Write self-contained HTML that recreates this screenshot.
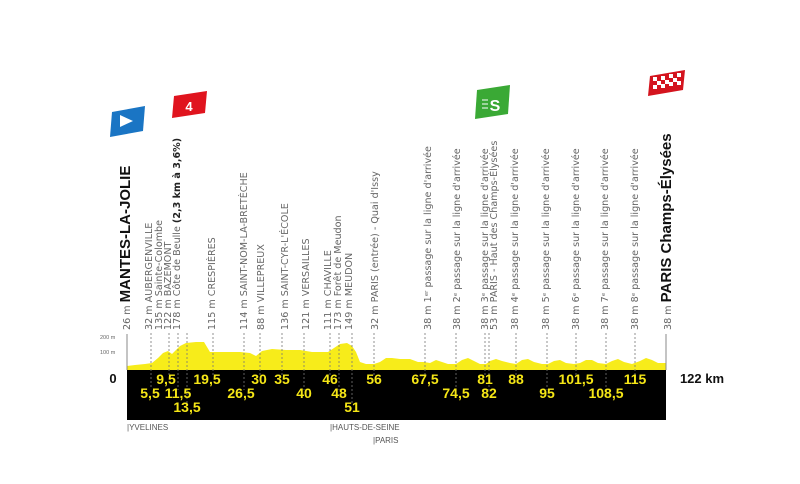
<!DOCTYPE html>
<html><head><meta charset="utf-8"><style>
html,body{margin:0;padding:0;background:#fff;}
svg{display:block;font-family:"Liberation Sans",sans-serif;}
.l{font-size:9.6px;fill:#666;font-family:"DejaVu Sans",sans-serif;}
.b{font-size:15px;font-weight:bold;fill:#111;font-family:"Liberation Sans",sans-serif;}
.n{font-size:14px;font-weight:bold;fill:#f5e616;text-anchor:middle;}
.p{font-size:8px;fill:#555;}
</style></head><body>
<svg width="800" height="484" viewBox="0 0 800 484" xmlns="http://www.w3.org/2000/svg">
<!-- flags -->
<polygon points="112,112 145,106 143,131 110,137" fill="#1a75c4"/>
<polygon points="120,115 133,121 120,127" fill="#fff"/>
<polygon points="174,96 207,91 205,113 172,118" fill="#e0141e"/>
<text x="189" y="111" font-size="13" font-weight="bold" fill="#fff" text-anchor="middle">4</text>
<polygon points="477,90 510,85 508,114 475,119" fill="#3aa935"/>
<text x="495" y="111" font-size="16" font-weight="bold" fill="#fff" text-anchor="middle">S</text>
<g stroke="#fff" stroke-width="1"><line x1="482" y1="100" x2="488" y2="100"/><line x1="482" y1="104" x2="488" y2="104"/><line x1="482" y1="108" x2="488" y2="108"/></g>
<polygon points="650,76 685,70 683,90 648,96" fill="#d4141e"/>
<g fill="#fff">
<rect x="653" y="77" width="4" height="4"/><rect x="661" y="76" width="4" height="4"/><rect x="669" y="74" width="4" height="4"/><rect x="677" y="73" width="4" height="4"/>
<rect x="657" y="81" width="4" height="4"/><rect x="665" y="80" width="4" height="4"/><rect x="673" y="78" width="4" height="4"/>
<rect x="653" y="85" width="4" height="4"/><rect x="661" y="84" width="4" height="4"/><rect x="669" y="82" width="4" height="4"/><rect x="677" y="81" width="4" height="4"/>
</g>
<!-- vertical labels -->
<text class="l" transform="translate(130,330) rotate(-90)">26 m <tspan class="b" font-size="16">MANTES-LA-JOLIE</tspan></text>
<text class="l" transform="translate(152,330) rotate(-90)">32 m AUBERGENVILLE</text>
<text class="l" transform="translate(162,330) rotate(-90)">135 m Sainte-Colombe</text>
<text class="l" transform="translate(171,330) rotate(-90)">122 m BAZEMONT</text>
<text class="l" transform="translate(180,330) rotate(-90)">178 m Côte de Beulle <tspan font-weight="bold" fill="#222">(2,3 km à 3,6%)</tspan></text>
<text class="l" transform="translate(215,330) rotate(-90)">115 m CRESPIÈRES</text>
<text class="l" transform="translate(247,330) rotate(-90)">114 m SAINT-NOM-LA-BRETÈCHE</text>
<text class="l" transform="translate(264,330) rotate(-90)">88 m VILLEPREUX</text>
<text class="l" transform="translate(288,330) rotate(-90)">136 m SAINT-CYR-L'ÉCOLE</text>
<text class="l" transform="translate(309,330) rotate(-90)">121 m VERSAILLES</text>
<text class="l" transform="translate(331,330) rotate(-90)">111 m CHAVILLE</text>
<text class="l" transform="translate(341,330) rotate(-90)">173 m Forêt de Meudon</text>
<text class="l" transform="translate(352,330) rotate(-90)">149 m MEUDON</text>
<text class="l" transform="translate(378,330) rotate(-90)">32 m PARIS (entrée) - Quai d'Issy</text>
<text class="l" transform="translate(431,330) rotate(-90)">38 m 1<tspan font-size="5.5" dy="-3">er</tspan><tspan dy="3"> passage sur la ligne d'arrivée</tspan></text>
<text class="l" transform="translate(460,330) rotate(-90)">38 m 2<tspan font-size="5.5" dy="-3">e</tspan><tspan dy="3"> passage sur la ligne d'arrivée</tspan></text>
<text class="l" transform="translate(488,330) rotate(-90)">38 m 3<tspan font-size="5.5" dy="-3">e</tspan><tspan dy="3"> passage sur la ligne d'arrivée</tspan></text>
<text class="l" transform="translate(497,330) rotate(-90)">53 m PARIS - Haut des Champs-Élysées</text>
<text class="l" transform="translate(518,330) rotate(-90)">38 m 4<tspan font-size="5.5" dy="-3">e</tspan><tspan dy="3"> passage sur la ligne d'arrivée</tspan></text>
<text class="l" transform="translate(549,330) rotate(-90)">38 m 5<tspan font-size="5.5" dy="-3">e</tspan><tspan dy="3"> passage sur la ligne d'arrivée</tspan></text>
<text class="l" transform="translate(579,330) rotate(-90)">38 m 6<tspan font-size="5.5" dy="-3">e</tspan><tspan dy="3"> passage sur la ligne d'arrivée</tspan></text>
<text class="l" transform="translate(608,330) rotate(-90)">38 m 7<tspan font-size="5.5" dy="-3">e</tspan><tspan dy="3"> passage sur la ligne d'arrivée</tspan></text>
<text class="l" transform="translate(638,330) rotate(-90)">38 m 8<tspan font-size="5.5" dy="-3">e</tspan><tspan dy="3"> passage sur la ligne d'arrivée</tspan></text>
<text class="l" transform="translate(671,330) rotate(-90)">38 m <tspan class="b" font-size="16">PARIS Champs-Élysées</tspan></text>
<!-- altitude labels -->
<text x="100" y="339" font-size="5.5" fill="#666">200 m</text>
<text x="100" y="354" font-size="5.5" fill="#666">100 m</text>
<!-- profile -->
<polygon fill="#f7ec1a" points="127,370 127,366 135,365 145,364 152,363 158,358 163,353 168,351 172,354 176,350 180,346 186,343 196,342 204,342 210,352 220,352 240,352 250,353 256,356 262,351 272,349 286,350 300,350 312,352 320,352 328,352 334,348 340,344 347,343 352,346 356,352 360,362 366,364 374,364 380,362 386,358 392,358 400,359 410,359 418,362 424,362 430,363 436,360 442,362 448,364 456,364 462,360 468,358 474,361 480,364 486,364 490,361 496,359 502,361 510,363 516,364 522,360 528,359 534,362 542,364 548,364 554,361 560,360 566,363 574,364 580,363 586,360 592,360 598,363 606,364 612,361 618,359 624,362 632,364 640,361 646,358 652,360 658,363 666,363 666,370"/>
<line x1="127" y1="334" x2="127" y2="370" stroke="#888" stroke-width="1"/>
<line x1="666" y1="334" x2="666" y2="370" stroke="#888" stroke-width="1"/>
<rect x="127" y="370" width="539" height="50" fill="#000"/>
<g stroke="#777" stroke-width="0.8" stroke-dasharray="2,2">
<line x1="151" y1="333" x2="151" y2="388"/>
<line x1="169" y1="333" x2="169" y2="376"/>
<line x1="178" y1="333" x2="178" y2="390"/>
<line x1="187" y1="333" x2="187" y2="405"/>
<line x1="213" y1="333" x2="213" y2="376"/>
<line x1="244" y1="333" x2="244" y2="390"/>
<line x1="260" y1="333" x2="260" y2="376"/>
<line x1="282" y1="333" x2="282" y2="376"/>
<line x1="304" y1="333" x2="304" y2="390"/>
<line x1="330" y1="333" x2="330" y2="376"/>
<line x1="339" y1="333" x2="339" y2="390"/>
<line x1="352" y1="333" x2="352" y2="405"/>
<line x1="374" y1="333" x2="374" y2="376"/>
<line x1="425" y1="333" x2="425" y2="376"/>
<line x1="456" y1="333" x2="456" y2="390"/>
<line x1="485" y1="333" x2="485" y2="376"/>
<line x1="489" y1="333" x2="489" y2="390"/>
<line x1="516" y1="333" x2="516" y2="376"/>
<line x1="547" y1="333" x2="547" y2="390"/>
<line x1="576" y1="333" x2="576" y2="376"/>
<line x1="606" y1="333" x2="606" y2="390"/>
<line x1="635" y1="333" x2="635" y2="376"/>
</g>
<text x="113" y="383" font-size="13" font-weight="bold" fill="#111" text-anchor="middle">0</text>
<text x="702" y="383" font-size="13" font-weight="bold" fill="#111" text-anchor="middle">122 km</text>
<text class="n" x="166" y="384">9,5</text>
<text class="n" x="207" y="384">19,5</text>
<text class="n" x="259" y="384">30</text>
<text class="n" x="282" y="384">35</text>
<text class="n" x="330" y="384">46</text>
<text class="n" x="374" y="384">56</text>
<text class="n" x="425" y="384">67,5</text>
<text class="n" x="485" y="384">81</text>
<text class="n" x="516" y="384">88</text>
<text class="n" x="576" y="384">101,5</text>
<text class="n" x="635" y="384">115</text>
<text class="n" x="150" y="398">5,5</text>
<text class="n" x="178" y="398">11,5</text>
<text class="n" x="241" y="398">26,5</text>
<text class="n" x="304" y="398">40</text>
<text class="n" x="339" y="398">48</text>
<text class="n" x="456" y="398">74,5</text>
<text class="n" x="489" y="398">82</text>
<text class="n" x="547" y="398">95</text>
<text class="n" x="606" y="398">108,5</text>
<text class="n" x="187" y="412">13,5</text>
<text class="n" x="352" y="412">51</text>
<text class="p" x="127" y="430">|YVELINES</text>
<text class="p" x="330" y="430">|HAUTS-DE-SEINE</text>
<text class="p" x="373" y="443">|PARIS</text>
</svg>
</body></html>
